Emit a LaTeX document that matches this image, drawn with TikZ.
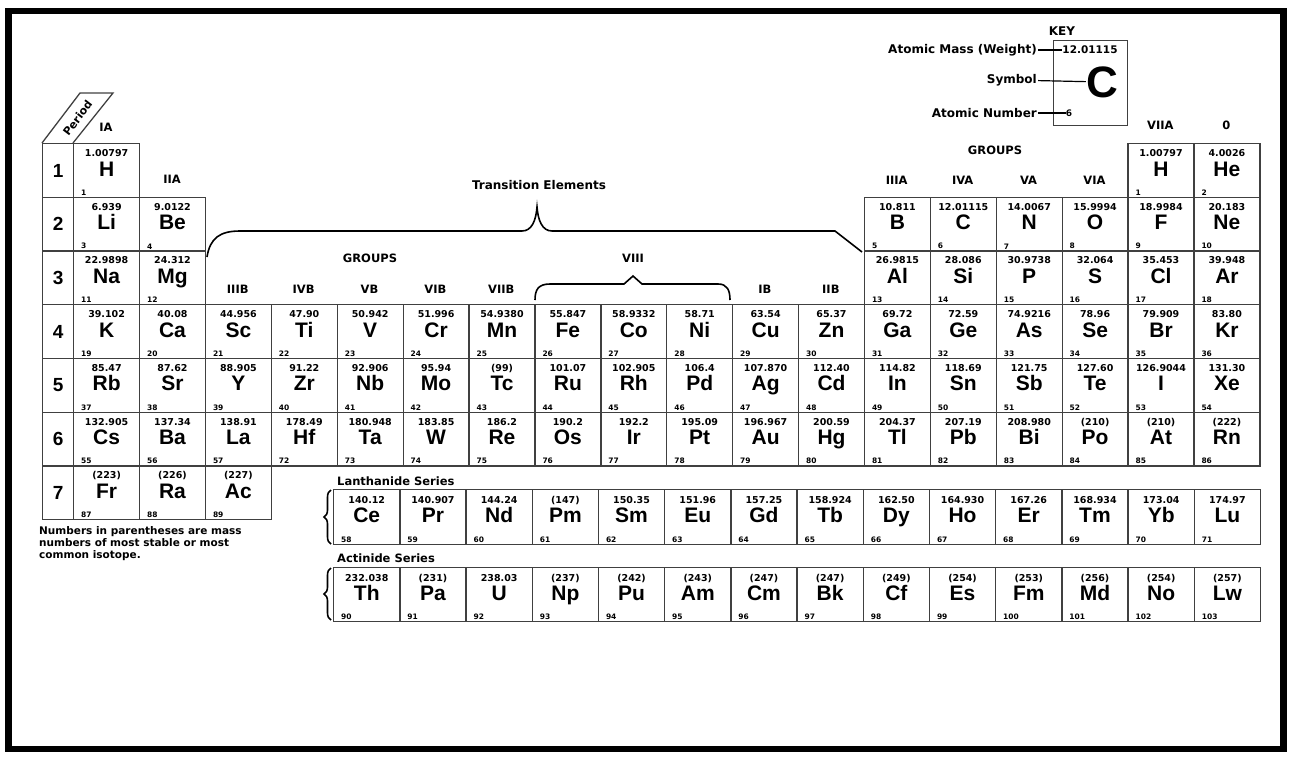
\documentclass[tikz,border=0pt]{standalone}
\usepackage{fontspec}
\setmainfont{DejaVu Sans}
\newfontfamily\symfont{Liberation Sans}
\usetikzlibrary{positioning, decorations.pathreplacing}

\tikzset{
  cell/.style={draw=black!75, line width=1.3pt, anchor=north west, minimum width=65.9pt, minimum height=53.7pt, inner sep=0pt},
  lcell/.style={cell, minimum width=66.2pt, minimum height=55pt},
  pcell/.style={draw=black!75, line width=1.3pt, anchor=north west, minimum width=31pt, minimum height=53.7pt, inner sep=0pt, font=\symfont\bfseries\fontsize{19}{19}\selectfont},
  mass/.style={font=\bfseries\fontsize{9.5}{10}\selectfont, inner sep=0pt, anchor=base},
  sym/.style={font=\symfont\bfseries\fontsize{21}{22}\selectfont, inner sep=0pt, anchor=base},
  num/.style={font=\bfseries\fontsize{7.5}{8}\selectfont, inner sep=0pt, anchor=south west},
  grp/.style={font=\bfseries\fontsize{11.5}{12}\selectfont, inner sep=0pt},
  keytext/.style={font=\bfseries\fontsize{12}{12}\selectfont, inner sep=1pt},
  brc/.style={line width=1.6pt},
}

\begin{document}
\begin{tikzpicture}[x=1pt, y=-1pt]
  \useasboundingbox (0,0) rectangle (1289,756);
  \draw[line width=6.5pt] (8.5,11) rectangle (1283.5,749);

  % key
  \node[keytext] (keyhead) at (1062,31) {KEY};
  \node[draw=black!75, line width=1.3pt, anchor=north west, minimum width=74pt, minimum height=85pt] (key) at (1053,40) {};
  \node[mass, anchor=center, font=\bfseries\fontsize{10.5}{11}\selectfont] (keymass) at (1090,50) {12.01115};
  \node[sym, anchor=center, font=\symfont\bfseries\fontsize{44}{44}\selectfont] (keysym) at (1102,82) {C};
  \node[num, anchor=center, font=\bfseries\fontsize{9}{9}\selectfont] (keynum) at (1069,113) {6};
  \node[keytext, anchor=east] (masslab) at (1038,50) {Atomic Mass (Weight)};
  \node[keytext, anchor=east] (symlab) at (1038,80) {Symbol};
  \node[keytext, anchor=east] (numlab) at (1038,113) {Atomic Number};
  \draw[line width=1.2pt] (masslab) -- (keymass);
  \draw[line width=1.2pt] (symlab) -- (keysym);
  \draw[line width=1.2pt] (numlab) -- (keynum);

  % period column
  \draw[line width=1.3pt, black!75] (42,143) -- (80,93) -- (113,93) -- (73,143);
  \node[rotate=52.8, inner sep=0pt, font=\bfseries\fontsize{11}{11}\selectfont] (period) at (77.5,118) {Period};
  \foreach \r in {1,...,7}
    \node[pcell] (p\r) at (42,{143+53.7*(\r-1)}) {\r};

  % main table
  \foreach \c/\r/\m/\s/\n in {
    1/1/1.00797/H/1, 18/1/4.0026/He/2,
    1/2/6.939/Li/3, 2/2/9.0122/Be/4, 13/2/10.811/B/5, 14/2/12.01115/C/6, 15/2/14.0067/N/7, 16/2/15.9994/O/8, 17/2/18.9984/F/9, 18/2/20.183/Ne/10,
    1/3/22.9898/Na/11, 2/3/24.312/Mg/12, 13/3/26.9815/Al/13, 14/3/28.086/Si/14, 15/3/30.9738/P/15, 16/3/32.064/S/16, 17/3/35.453/Cl/17, 18/3/39.948/Ar/18,
    1/4/39.102/K/19, 2/4/40.08/Ca/20, 3/4/44.956/Sc/21, 4/4/47.90/Ti/22, 5/4/50.942/V/23, 6/4/51.996/Cr/24, 7/4/54.9380/Mn/25, 8/4/55.847/Fe/26, 9/4/58.9332/Co/27,
    10/4/58.71/Ni/28, 11/4/63.54/Cu/29, 12/4/65.37/Zn/30, 13/4/69.72/Ga/31, 14/4/72.59/Ge/32, 15/4/74.9216/As/33, 16/4/78.96/Se/34, 17/4/79.909/Br/35, 18/4/83.80/Kr/36,
    1/5/85.47/Rb/37, 2/5/87.62/Sr/38, 3/5/88.905/Y/39, 4/5/91.22/Zr/40, 5/5/92.906/Nb/41, 6/5/95.94/Mo/42, 7/5/(99)/Tc/43, 8/5/101.07/Ru/44, 9/5/102.905/Rh/45,
    10/5/106.4/Pd/46, 11/5/107.870/Ag/47, 12/5/112.40/Cd/48, 13/5/114.82/In/49, 14/5/118.69/Sn/50, 15/5/121.75/Sb/51, 16/5/127.60/Te/52, 17/5/126.9044/I/53, 18/5/131.30/Xe/54,
    1/6/132.905/Cs/55, 2/6/137.34/Ba/56, 3/6/138.91/La/57, 4/6/178.49/Hf/72, 5/6/180.948/Ta/73, 6/6/183.85/W/74, 7/6/186.2/Re/75, 8/6/190.2/Os/76, 9/6/192.2/Ir/77,
    10/6/195.09/Pt/78, 11/6/196.967/Au/79, 12/6/200.59/Hg/80, 13/6/204.37/Tl/81, 14/6/207.19/Pb/82, 15/6/208.980/Bi/83, 16/6/(210)/Po/84, 17/6/(210)/At/85, 18/6/(222)/Rn/86,
    1/7/(223)/Fr/87, 2/7/(226)/Ra/88, 3/7/(227)/Ac/89}
  {
    \node[cell] (\s) at ({73+65.9*(\c-1)},{143+53.7*(\r-1)}) {};
    \node[mass] at ([yshift=-13.5pt]\s.north) {\m};
    \node[sym] at ([yshift=-5.5pt]\s.center) {\s};
    \node[num] at ([xshift=8pt,yshift=2.5pt]\s.south west) {\n};
  }
  % hydrogen again over VIIA
  \node[cell] (H2) at ({73+65.9*16},143) {};
  \node[mass] at ([yshift=-13.5pt]H2.north) {1.00797};
  \node[sym] at ([yshift=-5.5pt]H2.center) {H};
  \node[num] at ([xshift=8pt,yshift=2.5pt]H2.south west) {1};

  % lanthanide and actinide series
  \foreach \m/\s/\n [count=\i from 0] in {140.12/Ce/58, 140.907/Pr/59, 144.24/Nd/60, (147)/Pm/61, 150.35/Sm/62, 151.96/Eu/63, 157.25/Gd/64,
    158.924/Tb/65, 162.50/Dy/66, 164.930/Ho/67, 167.26/Er/68, 168.934/Tm/69, 173.04/Yb/70, 174.97/Lu/71}
  {
    \node[lcell] (\s) at ({333+66.2*\i},489) {};
    \node[mass] at ([yshift=-14pt]\s.north) {\m};
    \node[sym] at ([yshift=-5.5pt]\s.center) {\s};
    \node[num] at ([xshift=8pt,yshift=2.5pt]\s.south west) {\n};
  }
  \foreach \m/\s/\n [count=\i from 0] in {232.038/Th/90, (231)/Pa/91, 238.03/U/92, (237)/Np/93, (242)/Pu/94, (243)/Am/95, (247)/Cm/96,
    (247)/Bk/97, (249)/Cf/98, (254)/Es/99, (253)/Fm/100, (256)/Md/101, (254)/No/102, (257)/Lw/103}
  {
    \node[lcell, minimum height=54pt] (\s) at ({333+66.2*\i},567) {};
    \node[mass] at ([yshift=-14pt]\s.north) {\m};
    \node[sym] at ([yshift=-5.5pt]\s.center) {\s};
    \node[num] at ([xshift=8pt,yshift=2.5pt]\s.south west) {\n};
  }
  \node[grp, anchor=west] (lanlab) at (337,481) {Lanthanide Series};
  \node[grp, anchor=west] (actlab) at (337,558) {Actinide Series};
  \draw[brc, decorate, decoration={brace, amplitude=7pt}] (331,544) -- (331,490);
  \draw[brc, decorate, decoration={brace, amplitude=7pt}] (331,620) -- (331,568);

  % group headings
  \node[grp] (gIA) at (106,127) {IA};
  \node[grp] (gIIA) at (172,179) {IIA};
  \foreach \g [count=\c from 3] in {IIIB,IVB,VB,VIB,VIIB}
    \node[grp] (g\g) at ({73+65.9*(\c-0.5)},289) {\g};
  \node[grp] (gIB) at ({73+65.9*10.5},289) {IB};
  \node[grp] (gIIB) at ({73+65.9*11.5},289) {IIB};
  \foreach \g [count=\c from 13] in {IIIA,IVA,VA,VIA}
    \node[grp] (g\g) at ({73+65.9*(\c-0.5)},180) {\g};
  \node[grp] (gVIIA) at ({73+65.9*16.5},125) {VIIA};
  \node[grp] (gO) at ({73+65.9*17.5},125) {0};
  \node[grp] (groupsR) at (995,150) {GROUPS};
  \node[grp] (groupsL) at (370,258) {GROUPS};
  \node[grp] (gVIII) at (633,258) {VIII};
  \node[grp, font=\bfseries\fontsize{12}{12}\selectfont] (trans) at (539,185) {Transition Elements};

  % braces
  \draw[brc] (207,257) .. controls (210,238) and (220,231) .. (240,231) -- (522,231)
    .. controls (532,231) and (536,220) .. (537,207) .. controls (538,220) and (542,231) .. (552,231)
    -- (835,231) -- (862,252);
  \draw[brc] (535,300) .. controls (535,290) and (538,284) .. (550,284) -- (624,284) -- (633,276)
    -- (642,284) -- (718,284) .. controls (727,284) and (730,290) .. (730,300);

  % note
  \node[anchor=north west, align=left, inner sep=0pt, font=\bfseries\fontsize{10.5}{12}\selectfont] (note) at (39,526)
    {Numbers in parentheses are mass\\numbers of most stable or most\\common isotope.};
\end{tikzpicture}
\end{document}
